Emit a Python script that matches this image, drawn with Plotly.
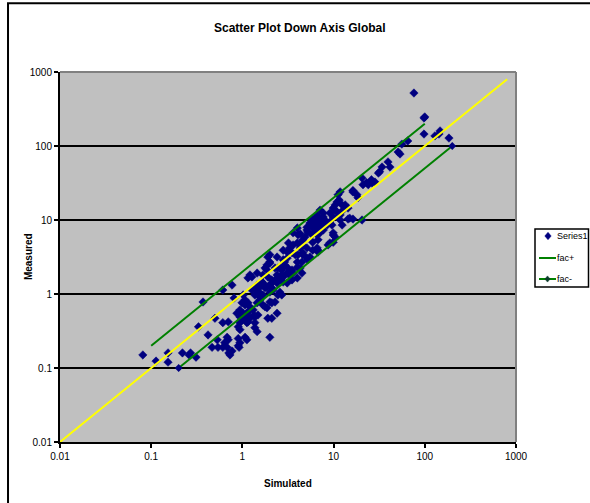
import plotly.graph_objects as go

simulated = [
    76, 100, 98, 98, 129, 143, 184, 147, 65, 56, 51, 53.5, 39.5, 41.5, 34, 32, 31, 26, 23, 24,
    20.5, 18, 16.3, 18.5, 11.8, 11.2, 11.5, 10.9, 10.4, 12.4, 9.9, 12.7, 10.9, 14.4, 11.8, 9.9, 15, 7.1, 7.7, 6.7,
    14.4, 16.3, 20.5, 8, 8.5, 7.5, 5.9, 6.25, 5.1, 6.6, 7.7, 12.4, 9.9, 4.0, 4.85, 4.3, 3.6, 21, 26.4, 28.4,
    16.3, 13.4, 10.4, 9.1, 11.2, 7.7, 6.6, 5.9, 9.1, 9.6, 7.5, 11.8, 9.9, 10.4, 9.1, 9.9, 6.75, 5.5, 5.9, 6.25,
    7.1, 5.1, 5.2, 5.8, 4.07, 6.75, 4.5, 4.6, 5.1, 4.0, 3.6, 4.3, 2.8, 3.1, 3.2, 3.5, 3.8, 4.07, 4.6, 5.1,
    5.2, 4.5, 2.4, 1.9, 2.0, 1.86, 1.77, 2.8, 2.9, 3.16, 2.7, 3.1, 3.3, 3.5, 4.0, 3.6, 4.3, 4.5, 4.0, 2.28,
    2.45, 2.4, 1.68, 1.9, 1.21, 1.27, 1.15, 2.58, 2.8, 3.1, 2.1, 2.0, 1.86, 1.68, 1.45, 1.37, 3.5, 0.081, 0.113, 0.153,
    0.153, 0.22, 0.27, 0.26, 0.31, 0.33, 0.42, 0.465, 0.54, 0.53, 0.61, 0.68, 0.71, 0.73, 0.77, 0.68, 0.70, 0.64, 0.90, 0.94,
    0.90, 0.92, 1.07, 1.12, 0.61, 0.70, 0.50, 0.90, 0.94, 1.12, 1.15, 1.37, 1.37, 1.45, 1.02, 1.07, 0.94, 0.99, 0.87, 1.15,
    1.31, 1.34, 1.21, 2.0, 1.68, 1.77, 1.86, 1.45, 1.56, 1.07, 1.15, 0.81, 1.37, 1.56, 1.68, 2.0, 2.17, 2.28, 2.1, 2.7,
    2.4, 2.8, 2.1, 1.68, 1.48, 1.45, 1.45, 0.77, 0.61, 6.6, 4.6, 6.6, 6.75, 5.9, 8.7, 6.6, 5.9, 4.6, 5.5, 6.75,
    3.3, 2.0, 3.1, 2.9, 4.0, 2.0, 1.86, 2.58, 2.7, 2.28, 2.4, 1.64, 1.56, 1.77, 2.1, 1.48, 2.58, 2.45, 0.99, 1.07,
    0.94, 1.12, 1.21, 2.0, 1.37, 1.48, 0.94, 1.9, 2.1, 0.37, 1.02, 1.27,
]
measured = [
    520, 247, 239, 145, 137, 145, 128, 160, 117, 106, 83, 78, 61, 52, 52, 45, 43, 35, 32, 30,
    37, 22, 25, 20, 24, 22, 18.6, 17.5, 16, 16, 14.5, 13.6, 12.8, 14.5, 11.7, 11, 10.6, 13.6, 12.4, 11,
    10.3, 10.3, 10, 10, 8.55, 9.1, 10.3, 8.55, 7.3, 7.3, 7.3, 8.55, 6.27, 7.8, 5.9, 6.5, 6.7, 30, 31.6, 32.6,
    23.9, 16, 13.6, 12.4, 11, 11, 11.7, 9.4, 9.4, 8.55, 8, 10, 6.7, 5.9, 4.9, 5.0, 10, 9.1, 7.8, 6.7,
    6.7, 8, 6.9, 6.3, 6.3, 3.9, 5.0, 4.6, 4.2, 4.9, 4.6, 4.2, 3.9, 3.7, 4.9, 3.6, 3.4, 3.4, 3.4, 3.06,
    2.9, 2.7, 3.16, 3.16, 2.7, 2.47, 2.24, 2.9, 2.47, 2.24, 2.11, 1.92, 1.81, 2.11, 2.3, 1.92, 2.24, 1.92, 1.65, 2.24,
    2.24, 1.81, 1.81, 1.7, 1.81, 1.7, 1.65, 1.65, 1.45, 1.41, 1.55, 1.32, 1.24, 1.32, 1.32, 1.21, 1.55, 0.15, 0.124, 0.16,
    0.12, 0.16, 0.16, 0.15, 0.14, 0.36, 0.28, 0.19, 0.19, 0.24, 0.19, 0.19, 0.16, 0.15, 0.17, 0.26, 0.24, 0.22, 0.25, 0.22,
    0.20, 0.19, 0.26, 0.24, 0.41, 0.42, 0.47, 0.36, 0.33, 0.41, 0.42, 0.41, 0.35, 0.31, 0.55, 0.49, 0.49, 0.45, 0.55, 0.57,
    0.61, 0.52, 0.47, 0.26, 0.71, 0.67, 0.65, 0.76, 0.83, 0.83, 0.76, 0.88, 0.97, 1.03, 0.97, 1.06, 1.13, 0.78, 0.76, 0.97,
    0.55, 1.7, 1.41, 1.41, 1.06, 1.21, 1.92, 1.32, 1.13, 8.55, 5.4, 6.3, 5.4, 5.0, 4.6, 4.2, 3.9, 3.6, 3.16, 3.7,
    4.2, 3.4, 3.06, 2.7, 2.7, 2.6, 2.11, 2.24, 1.81, 1.55, 1.41, 1.45, 1.24, 1.21, 1.21, 0.97, 1.06, 0.97, 0.76, 0.71,
    0.61, 0.55, 0.67, 0.78, 0.49, 0.52, 0.41, 0.47, 0.47, 0.78, 0.97, 1.13,
]

# Factor-of-two envelope lines and the 1:1 line
fac_plus_x = [0.1, 100]
fac_plus_y = [0.2, 200]
fac_minus_x = [0.2, 200]
fac_minus_y = [0.1, 100]
one_to_one = [0.008, 800]

tick_vals = [0.01, 0.1, 1, 10, 100, 1000]
tick_text = ["0.01", "0.1", "1", "10", "100", "1000"]
legend_names = ["Series1", "fac+", "fac-"]

FONT = "Liberation Sans, Arial, sans-serif"
NAVY = "#000080"
GREEN = "#008000"

fig = go.Figure()
fig.add_trace(go.Scatter(
    x=simulated, y=measured, mode="markers", name=legend_names[0],
    marker=dict(symbol="diamond", size=6.5, color=NAVY, line=dict(width=0.5, color=NAVY))))
fig.add_trace(go.Scatter(
    x=fac_plus_x, y=fac_plus_y, mode="lines", name=legend_names[1],
    line=dict(color=GREEN, width=2)))
fig.add_trace(go.Scatter(
    x=fac_minus_x, y=fac_minus_y, mode="lines+markers", name=legend_names[2],
    line=dict(color=GREEN, width=2),
    marker=dict(symbol="diamond", size=6, color=NAVY)))
fig.add_trace(go.Scatter(
    x=one_to_one, y=one_to_one, mode="lines",
    line=dict(color="#FFFF00", width=2), hoverinfo="skip"))

# ---- compact legend box drawn in paper coordinates (Excel-style) ----
def px_x(p):
    return (p - 60) / 456.0

def px_y(p):
    return (442 - p) / 370.0

def diamond(cx, cy, r=3.2):
    return ("M {a},{b} L {c},{d} L {a},{e} L {f},{d} Z".format(
        a=px_x(cx), b=px_y(cy - r - 0.5), c=px_x(cx + r), d=px_y(cy),
        e=px_y(cy + r + 0.5), f=px_x(cx - r)))

legend_rows = [236, 258, 279]
shapes = [
    dict(type="line", xref="paper", yref="paper", x0=0, x1=1, y0=1, y1=1,
         line=dict(color="#808080", width=2), layer="above"),
    dict(type="line", xref="paper", yref="paper", x0=1, x1=1, y0=0, y1=1,
         line=dict(color="#808080", width=2), layer="above"),
    dict(type="rect", xref="paper", yref="paper", x0=-0.114, x1=1.3, y0=-0.3, y1=1.186,
         line=dict(color="black", width=2), fillcolor="rgba(0,0,0,0)", layer="above"),
    # legend frame
    dict(type="rect", xref="paper", yref="paper", x0=px_x(535), x1=px_x(588.5),
         y0=px_y(287), y1=px_y(229), line=dict(color="black", width=1.5),
         fillcolor="white", layer="above"),
    # legend symbols
    dict(type="path", xref="paper", yref="paper", path=diamond(548, legend_rows[0]),
         fillcolor=NAVY, line=dict(color=NAVY, width=0.5), layer="above"),
    dict(type="line", xref="paper", yref="paper", x0=px_x(539), x1=px_x(556),
         y0=px_y(legend_rows[1]), y1=px_y(legend_rows[1]),
         line=dict(color=GREEN, width=2), layer="above"),
    dict(type="line", xref="paper", yref="paper", x0=px_x(539), x1=px_x(556),
         y0=px_y(legend_rows[2]), y1=px_y(legend_rows[2]),
         line=dict(color=GREEN, width=2), layer="above"),
    dict(type="path", xref="paper", yref="paper", path=diamond(547.5, legend_rows[2], 2.6),
         fillcolor="#0A3A2A", line=dict(color="#0A3A2A", width=0.5), layer="above"),
]

annotations = [
    dict(text="<b>Scatter Plot Down Axis Global</b>", xref="paper", yref="paper",
         x=0.526, y=1.119, xanchor="center", yanchor="middle", showarrow=False,
         font=dict(family=FONT, size=12, color="black")),
    dict(text="<b>Simulated</b>", xref="paper", yref="paper",
         x=0.5, y=-0.111, xanchor="center", yanchor="middle", showarrow=False,
         font=dict(family=FONT, size=10, color="black")),
    dict(text="<b>Measured</b>", xref="paper", yref="paper",
         x=-0.070, y=0.5, xanchor="center", yanchor="middle", showarrow=False,
         textangle=-90, font=dict(family=FONT, size=10, color="black")),
]
for name, row in zip(legend_names, legend_rows):
    annotations.append(dict(
        text=name, xref="paper", yref="paper", x=px_x(555), y=px_y(row),
        xanchor="left", yanchor="middle", showarrow=False,
        font=dict(family=FONT, size=9, color="black")))

fig.update_layout(
    width=590, height=503,
    margin=dict(l=60, r=74, t=72, b=61, autoexpand=False),
    paper_bgcolor="white",
    plot_bgcolor="#C0C0C0",
    font=dict(family=FONT, size=10, color="black"),
    showlegend=False,
    xaxis=dict(
        type="log", range=[-2, 3], tickvals=tick_vals, ticktext=tick_text,
        showgrid=False, zeroline=False, showline=True, linecolor="black", linewidth=2,
        ticks="outside", ticklen=4, tickwidth=2, tickcolor="black",
        tickfont=dict(family=FONT, size=10, color="black"),
    ),
    yaxis=dict(
        type="log", range=[-2, 3], tickvals=tick_vals, ticktext=tick_text,
        showgrid=True, gridcolor="black", gridwidth=1.5, zeroline=False,
        showline=True, linecolor="black", linewidth=2,
        ticks="outside", ticklen=4, tickwidth=2, tickcolor="black",
        tickfont=dict(family=FONT, size=10, color="black"),
    ),
    annotations=annotations,
    shapes=shapes,
)

fig.write_html("out.html")
